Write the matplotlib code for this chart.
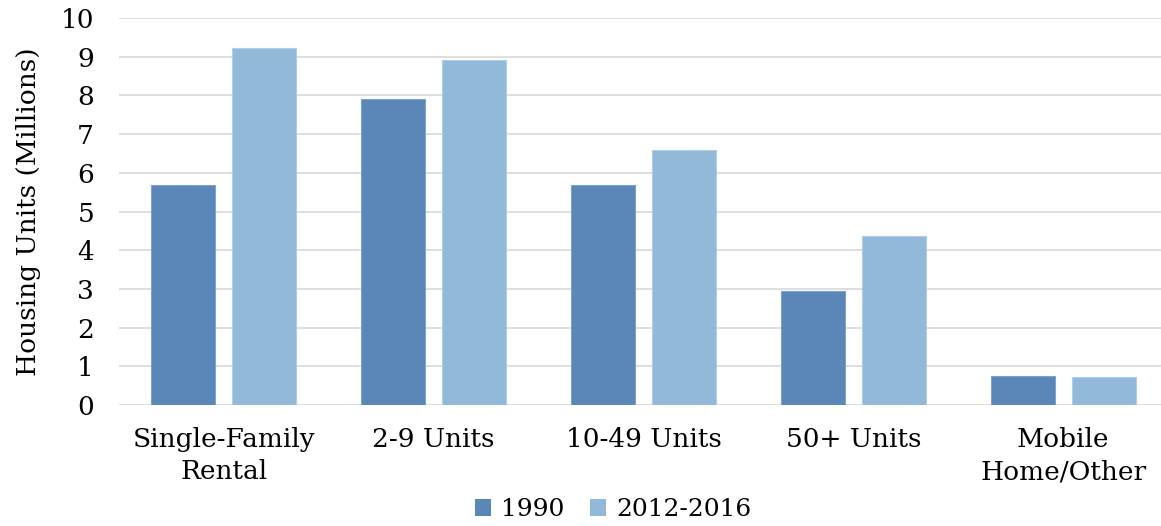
import numpy as np
import matplotlib
matplotlib.use("Agg")
import matplotlib.pyplot as plt
from matplotlib.patches import Patch

# ── Data ─────────────────────────────────────────────────────────────────────
categories = ["Single-Family\nRental", "2-9 Units", "10-49 Units",
              "50+ Units", "Mobile\nHome/Other"]
units_1990 = [5.68, 7.90, 5.68, 2.95, 0.75]
units_2016 = [9.22, 8.92, 6.59, 4.36, 0.72]
series_names = ["1990", "2012-2016"]

C_1990 = "#5B86B8"
C_2016 = "#93B9DA"

FS = 19

plt.rcParams.update({
    "font.family": ["DejaVu Serif"],
    "font.size": FS,
})

fig = plt.figure(figsize=(11.61, 5.26), dpi=100)
ax = fig.add_axes([119 / 1161, 1 - 405 / 526, 1049 / 1161, 387 / 526])

x = np.arange(len(categories))
w = 0.305
off = 0.193
ax.bar(x - off, units_1990, width=w, color=C_1990, edgecolor="#7FA3CC",
       linewidth=0.8, zorder=3)
ax.bar(x + off, units_2016, width=w, color=C_2016, edgecolor="#B0CCE6",
       linewidth=0.8, zorder=3)

ax.set_xlim(-0.5, len(categories) - 0.5)
ax.set_ylim(0, 10)
ax.set_yticks(range(0, 11))
ax.set_xticks(x)
ax.set_xticklabels(categories, fontsize=FS, linespacing=1.35)
ax.tick_params(axis="y", labelsize=FS, length=0, pad=18)
ax.tick_params(axis="x", length=0, pad=16)
ax.grid(axis="y", color="#D9D9D9", linewidth=1.2, zorder=0)
for s in ax.spines.values():
    s.set_visible(False)

ax.set_ylabel("Housing Units (Millions)", fontsize=FS, labelpad=14)

handles = [Patch(facecolor=C_1990), Patch(facecolor=C_2016)]
fig.legend(handles, series_names, loc="center", ncol=2,
           bbox_to_anchor=(613 / 1161, 1 - 510 / 526), frameon=False,
           fontsize=18, handlelength=0.65, handleheight=0.65,
           handletextpad=0.4, columnspacing=1.0)

fig.savefig("out.png", dpi=100)
